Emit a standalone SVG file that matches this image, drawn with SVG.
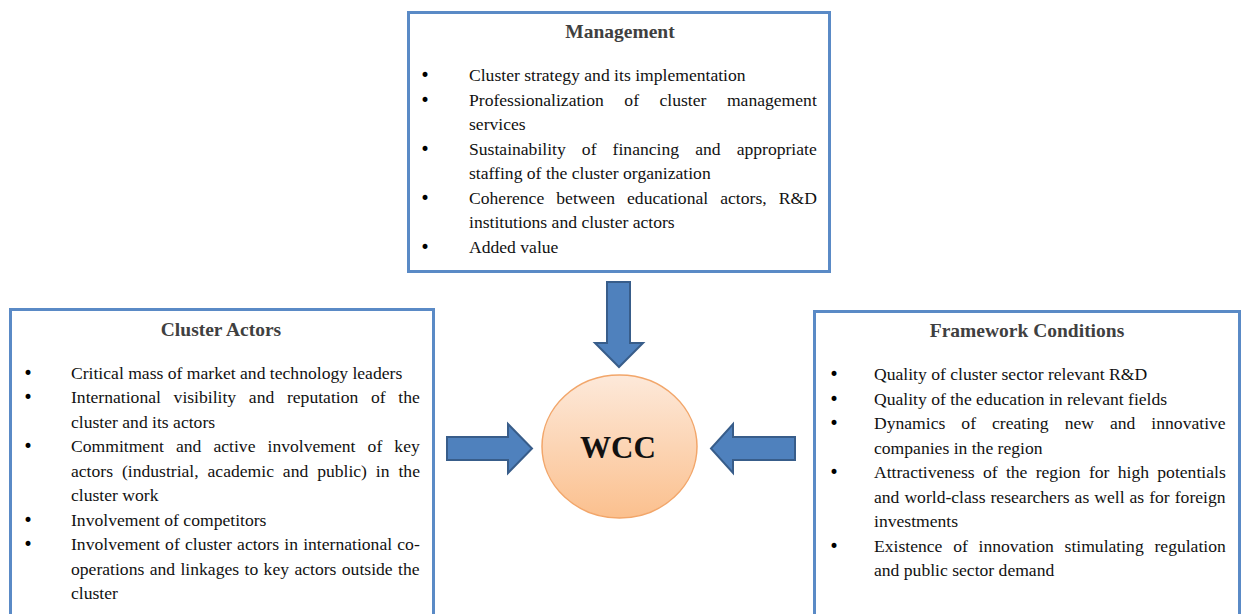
<svg xmlns="http://www.w3.org/2000/svg" width="1243" height="614" viewBox="0 0 1243 614">
<defs>
<linearGradient id="g" x1="0" y1="0" x2="0" y2="1">
<stop offset="0" stop-color="#fde9da"/>
<stop offset="1" stop-color="#fbc08e"/>
</linearGradient>
<style>
.box{fill:#fff;stroke:#5a8ac6;stroke-width:3}
.t{font-family:"Liberation Serif","Times New Roman",serif;font-size:17.6px;fill:#111}
.b{font-family:"DejaVu Sans",sans-serif;font-size:17px;fill:#000;text-anchor:middle}
.h{font-family:"Liberation Serif","Times New Roman",serif;font-size:19.5px;font-weight:bold;fill:#404040;text-anchor:middle}
.arr{fill:#4f81bd;stroke:#385d8a;stroke-width:2}
</style>
</defs>
<g id="management">
<rect class="box" x="408.5" y="12.5" width="421" height="259"/>
<text class="h" x="620" y="38">Management</text>
<g class="t">
<text class="b" x="425" y="81">•</text><text x="469" y="81">Cluster strategy and its implementation</text>
<text class="b" x="425" y="106">•</text><text x="469" y="106" word-spacing="16.1">Professionalization of cluster management</text>
<text x="469" y="130">services</text>
<text class="b" x="425" y="155">•</text><text x="469" y="155" word-spacing="11.7">Sustainability of financing and appropriate</text>
<text x="469" y="179">staffing of the cluster organization</text>
<text class="b" x="425" y="204">•</text><text x="469" y="204" word-spacing="7.7">Coherence between educational actors, R&amp;D</text>
<text x="469" y="228">institutions and cluster actors</text>
<text class="b" x="425" y="253">•</text><text x="469" y="253">Added value</text>
</g>
</g>
<g id="cluster-actors">
<rect class="box" x="10.5" y="309.5" width="423" height="310"/>
<text class="h" x="221" y="336">Cluster Actors</text>
<g class="t">
<text class="b" x="28" y="379">•</text><text x="71" y="379">Critical mass of market and technology leaders</text>
<text class="b" x="28" y="403">•</text><text x="71" y="403" word-spacing="8.3">International visibility and reputation of the</text>
<text x="71" y="428">cluster and its actors</text>
<text class="b" x="28" y="452">•</text><text x="71" y="452" word-spacing="7.7">Commitment and active involvement of key</text>
<text x="71" y="477" word-spacing="4.5">actors (industrial, academic and public) in the</text>
<text x="71" y="501">cluster work</text>
<text class="b" x="28" y="526">•</text><text x="71" y="526">Involvement of competitors</text>
<text class="b" x="28" y="550">•</text><text x="71" y="550" word-spacing="0.8">Involvement of cluster actors in international co-</text>
<text x="71" y="575" word-spacing="1.0">operations and linkages to key actors outside the</text>
<text x="71" y="599">cluster</text>
</g>
</g>
<g id="framework-conditions">
<rect class="box" x="814.5" y="311.5" width="425" height="310"/>
<text class="h" x="1027" y="337">Framework Conditions</text>
<g class="t">
<text class="b" x="834" y="380">•</text><text x="874" y="380">Quality of cluster sector relevant R&amp;D</text>
<text class="b" x="834" y="405">•</text><text x="874" y="405">Quality of the education in relevant fields</text>
<text class="b" x="834" y="429">•</text><text x="874" y="429" word-spacing="11.6">Dynamics of creating new and innovative</text>
<text x="874" y="454">companies in the region</text>
<text class="b" x="834" y="478">•</text><text x="874" y="478" word-spacing="3.9">Attractiveness of the region for high potentials</text>
<text x="874" y="503" word-spacing="0.6">and world-class researchers as well as for foreign</text>
<text x="874" y="527">investments</text>
<text class="b" x="834" y="552">•</text><text x="874" y="552" word-spacing="6.35">Existence of innovation stimulating regulation</text>
<text x="874" y="576">and public sector demand</text>
</g>
</g>
<g id="wcc">
<ellipse cx="619.5" cy="446.5" rx="77.5" ry="71.5" fill="url(#g)" stroke="#f2a66a" stroke-width="1.5"/>
<text x="618" y="458" text-anchor="middle" font-family="'Liberation Serif','Times New Roman',serif" font-size="31" font-weight="bold" fill="#111">WCC</text>
</g>
<g id="connectors">
<polygon class="arr" points="607,282 630,282 630,343 643,343 619,367 595,343 607,343"/>
<polygon class="arr" points="447,437 508,437 508,424 532,448.5 508,473 508,460 447,460"/>
<polygon class="arr" points="795,437 733,437 733,424 711,448.5 733,473 733,460 795,460"/>
</g>
</svg>
